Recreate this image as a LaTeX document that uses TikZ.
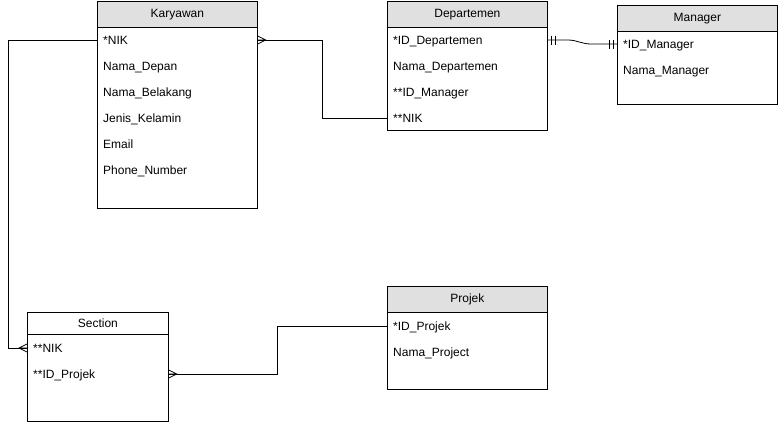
\documentclass[tikz,border=0pt]{standalone}
\usepackage{fontspec}
\setmainfont{Liberation Sans}
\definecolor{headgray}{HTML}{E0E0E0}
\tikzset{
  ent/.style={draw, line width=0.8pt, fill=white, anchor=north west, inner sep=0pt},
  enthead/.style={ent, fill=headgray, minimum height=26pt},
  attr/.style={anchor=west, inner sep=0pt, text height=9pt, text depth=0pt},
  rel/.style={draw=black, line width=0.8pt},
  many/.pic={\draw[rel] (0,0) -- (8,0) (0,-4) -- (8,0) -- (0,4);},
  one/.pic={\draw[rel] (4,-4.5) -- (4,4.5) (7.5,-4.5) -- (7.5,4.5);}
}

\begin{document}
\begin{tikzpicture}[x=1pt, y=-1pt, font=\fontsize{12}{14}\selectfont]
            \useasboundingbox (0,0) rectangle (778,423);
            % Entities
            \node[ent, minimum width=160pt, minimum height=207pt] (kar) at (97,1) {};
            \node[enthead, minimum width=160pt] (karh) at (97,1) {Karyawan};
            \node[ent, minimum width=160pt, minimum height=129pt] (dep) at (387,1) {};
            \node[enthead, minimum width=160pt] (deph) at (387,1) {Departemen};
            \node[ent, minimum width=160pt, minimum height=99pt] (man) at (617,5) {};
            \node[enthead, minimum width=160pt] (manh) at (617,5) {Manager};
            \node[ent, minimum width=141pt, minimum height=109pt] (sec) at (27,312) {};
            \node[ent, minimum width=141pt, minimum height=22pt] (sech) at (27,312) {Section};
            \node[ent, minimum width=160pt, minimum height=103pt] (prj) at (387,286) {};
            \node[enthead, minimum width=160pt] (prjh) at (387,286) {Projek};
            % Attributes
            \foreach \i/\t in {1/*NIK, 2/Nama\_Depan, 3/Nama\_Belakang, 4/Jenis\_Kelamin, 5/Email, 6/Phone\_Number}
                \node[attr] (kar\i) at (103,14+26*\i) {\t};
            \foreach \i/\t in {1/*ID\_Departemen, 2/Nama\_Departemen, 3/**ID\_Manager, 4/**NIK}
                \node[attr] (dep\i) at (393,14+26*\i) {\t};
            \foreach \i/\t in {1/*ID\_Manager, 2/Nama\_Manager}
                \node[attr] (man\i) at (623,18+26*\i) {\t};
            \foreach \i/\t in {1/**NIK, 2/**ID\_Projek}
                \node[attr] (sec\i) at (33,322+26*\i) {\t};
            \foreach \i/\t in {1/*ID\_Projek, 2/Nama\_Project}
                \node[attr] (prj\i) at (393,300+26*\i) {\t};
            % Relations
            \draw[rel] (kar.east |- kar1) -- ++(65,0) |- (dep.west |- dep4);
            \draw[rel] (kar.west |- kar1) -- ++(-89,0) |- (sec.west |- sec1);
            \draw[rel] (prj.west |- prj1) -- ++(-110,0) |- (sec.east |- sec2);
            \draw[rel] (dep.east |- dep1) -- ++(20,0) to[out=0, in=180] ++(23,4) -- (man.west |- man1);
            \pic at (kar.east |- kar1) {many};
            \pic[rotate=180] at (sec.west |- sec1) {many};
            \pic at (sec.east |- sec2) {many};
            \pic at (dep.east |- dep1) {one};
            \pic[rotate=180] at (man.west |- man1) {one};
        \end{tikzpicture}
\end{document}
